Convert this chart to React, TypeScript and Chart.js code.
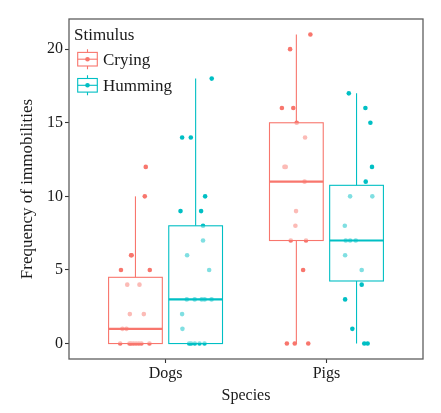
import React, { useEffect, useRef } from "react";
import { Chart, registerables } from "chart.js";

Chart.register(...registerables);

// ---------- data ----------
const species = ["Dogs", "Pigs"];
const stimuli = ["Crying", "Humming"];
const yTicks = [0, 5, 10, 15, 20];

const dogsCryingValues = [0, 0, 0, 0, 0, 0, 0, 0, 1, 1, 2, 2, 4, 4, 5, 5, 6, 6, 10, 12];
const dogsCryingJitter = [-0.095, -0.037, -0.027, -0.012, 0.004, 0.021, 0.037, 0.087, -0.081, -0.056, -0.035, 0.052, -0.051, 0.025, -0.09, 0.089, -0.027, -0.024, 0.058, 0.064];

const dogsHummingValues = [0, 0, 0, 0, 0, 1, 2, 3, 3, 3, 3, 3, 5, 6, 7, 8, 9, 9, 10, 14, 14, 18];
const dogsHummingJitter = [-0.04, -0.028, -0.005, 0.024, 0.055, -0.082, -0.084, -0.055, -0.006, 0.038, 0.056, 0.099, 0.084, -0.053, 0.046, 0.046, -0.094, 0.034, 0.059, -0.084, -0.03, 0.1];

const pigsCryingValues = [0, 0, 0, 5, 7, 7, 8, 9, 11, 12, 12, 14, 15, 16, 16, 20, 21];
const pigsCryingJitter = [-0.059, -0.01, 0.074, 0.042, -0.035, 0.06, -0.006, -0.002, 0.051, -0.074, -0.066, 0.054, 0.002, -0.09, -0.019, -0.039, 0.087];

const pigsHummingValues = [0, 0, 1, 3, 4, 5, 6, 7, 7, 7, 8, 10, 10, 11, 12, 15, 16, 17];
const pigsHummingJitter = [0.048, 0.069, -0.026, -0.071, 0.032, 0.032, -0.071, -0.067, -0.04, -0.005, -0.073, -0.04, 0.098, 0.057, 0.096, 0.086, 0.055, -0.048];

// box statistics per species (Dogs, Pigs)
const cryingLower = [0, 0];
const cryingQ1 = [0, 7];
const cryingMedian = [1, 11];
const cryingQ3 = [4.5, 15];
const cryingUpper = [10, 21];

const hummingLower = [0, 0];
const hummingQ1 = [0, 4.25];
const hummingMedian = [3, 7];
const hummingQ3 = [8, 10.75];
const hummingUpper = [18, 17];

// ---------- styling ----------
const COLORS = ["#F8766D", "#00BFC4"];
const DODGE = 0.187;
const BOX_HALF = 0.167;
const FONT = "'Liberation Serif', 'Times New Roman', serif";
const TEXT = "#1a1a1a";

function pts(vals: number[], jit: number[], center: number) {
  return vals.map((v, i) => ({ x: center + jit[i], y: v }));
}

const boxStats = [
  { lower: cryingLower, q1: cryingQ1, med: cryingMedian, q3: cryingQ3, upper: cryingUpper },
  { lower: hummingLower, q1: hummingQ1, med: hummingMedian, q3: hummingQ3, upper: hummingUpper },
];

const boxPlugin = {
  id: "boxes",
  afterDatasetsDraw(chart: any) {
    const { ctx, scales } = chart;
    const x = scales.x;
    const y = scales.y;
    ctx.save();
    boxStats.forEach((s, gi) => {
      const color = COLORS[gi];
      const off = gi === 0 ? -DODGE : DODGE;
      species.forEach((_, si) => {
        const c = si + 1 + off;
        const xc = x.getPixelForValue(c);
        const xl = x.getPixelForValue(c - BOX_HALF);
        const xr = x.getPixelForValue(c + BOX_HALF);
        const yLo = y.getPixelForValue(s.lower[si]);
        const yQ1 = y.getPixelForValue(s.q1[si]);
        const yMed = y.getPixelForValue(s.med[si]);
        const yQ3 = y.getPixelForValue(s.q3[si]);
        const yHi = y.getPixelForValue(s.upper[si]);
        ctx.strokeStyle = color;
        ctx.lineWidth = 1.1;
        ctx.beginPath();
        ctx.moveTo(xc, yHi);
        ctx.lineTo(xc, yQ3);
        ctx.moveTo(xc, yQ1);
        ctx.lineTo(xc, yLo);
        ctx.stroke();
        ctx.fillStyle = "rgba(255,255,255,0.5)";
        ctx.fillRect(xl, yQ3, xr - xl, yQ1 - yQ3);
        ctx.strokeRect(xl, yQ3, xr - xl, yQ1 - yQ3);
        ctx.lineWidth = 2.1;
        ctx.beginPath();
        ctx.moveTo(xl, yMed);
        ctx.lineTo(xr, yMed);
        ctx.stroke();
      });
    });
    ctx.restore();
  },
  afterDraw(chart: any) {
    const { ctx, chartArea } = chart;
    const { left, top, right, bottom } = chartArea;
    ctx.save();
    // panel border
    ctx.strokeStyle = "#5e5e5e";
    ctx.lineWidth = 1.3;
    ctx.strokeRect(left, top, right - left, bottom - top);
    // legend
    ctx.fillStyle = TEXT;
    ctx.font = `17px ${FONT}`;
    ctx.textAlign = "left";
    ctx.textBaseline = "alphabetic";
    ctx.fillText("Stimulus", left + 5, top + 21);
    stimuli.forEach((label, i) => {
      const cy = top + 40.2 + i * 26.1;
      const kx0 = left + 8.7;
      const kx1 = left + 28.3;
      const kc = (kx0 + kx1) / 2;
      ctx.strokeStyle = COLORS[i];
      ctx.lineWidth = 1.1;
      ctx.beginPath();
      ctx.moveTo(kc, cy - 10);
      ctx.lineTo(kc, cy - 6.8);
      ctx.moveTo(kc, cy + 6.8);
      ctx.lineTo(kc, cy + 10);
      ctx.stroke();
      ctx.fillStyle = "#fff";
      ctx.fillRect(kx0, cy - 6.8, kx1 - kx0, 13.6);
      ctx.strokeRect(kx0, cy - 6.8, kx1 - kx0, 13.6);
      ctx.beginPath();
      ctx.moveTo(kx0, cy);
      ctx.lineTo(kx1, cy);
      ctx.stroke();
      ctx.fillStyle = COLORS[i];
      ctx.beginPath();
      ctx.arc(kc, cy, 2.3, 0, Math.PI * 2);
      ctx.fill();
      ctx.fillStyle = TEXT;
      ctx.fillText(label, left + 34, cy + 6);
    });
    ctx.restore();
  },
};

export default function App() {
  const ref = useRef<HTMLCanvasElement | null>(null);
  useEffect(() => {
    if (!ref.current) return;
    const cryingPoints = [
      ...pts(dogsCryingValues, dogsCryingJitter, 1 - DODGE),
      ...pts(pigsCryingValues, pigsCryingJitter, 2 - DODGE),
    ];
    const hummingPoints = [
      ...pts(dogsHummingValues, dogsHummingJitter, 1 + DODGE),
      ...pts(pigsHummingValues, pigsHummingJitter, 2 + DODGE),
    ];
    const font = { family: FONT, size: 16 };
    const titleFontY = { family: FONT, size: 17 };
    const chart = new Chart(ref.current, {
      type: "scatter",
      data: {
        datasets: [
          { label: stimuli[0], data: cryingPoints, backgroundColor: COLORS[0], pointRadius: 2.3, pointBorderWidth: 0, borderWidth: 0 },
          { label: stimuli[1], data: hummingPoints, backgroundColor: COLORS[1], pointRadius: 2.3, pointBorderWidth: 0, borderWidth: 0 },
        ],
      },
      options: {
        animation: false,
        responsive: false,
        maintainAspectRatio: false,
        events: [],
        layout: { padding: { top: 19, right: 18, left: 0, bottom: 0 } },
        plugins: { legend: { display: false }, tooltip: { enabled: false } },
        scales: {
          x: {
            type: "linear",
            min: 0.4,
            max: 2.6,
            afterBuildTicks: (s: any) => {
              s.ticks = species.map((_, i) => ({ value: i + 1 }));
            },
            afterFit: (s: any) => {
              s.height = 54;
            },
            ticks: {
              autoSkip: false,
              maxRotation: 0,
              padding: 1,
              color: TEXT,
              font,
              callback: (v: any) => species[Math.round(Number(v)) - 1] ?? "",
            },
            grid: { drawOnChartArea: false, drawTicks: true, tickLength: 4, tickColor: "#333", tickWidth: 1.1 },
            border: { display: false },
            title: { display: true, text: "Species", color: TEXT, font, padding: { top: 0, bottom: 7.8 } },
          },
          y: {
            type: "linear",
            min: -1.05,
            max: 22.05,
            afterBuildTicks: (s: any) => {
              s.ticks = yTicks.map((v) => ({ value: v }));
            },
            afterFit: (s: any) => {
              s.width = 69;
            },
            ticks: { padding: 2, color: TEXT, font },
            grid: { drawOnChartArea: false, drawTicks: true, tickLength: 4, tickColor: "#333", tickWidth: 1.1 },
            border: { display: false },
            title: { display: true, text: "Frequency of immobilities", color: TEXT, font: titleFontY, padding: { top: 17.7, bottom: 0 } },
          },
        },
      },
      plugins: [boxPlugin],
    });
    return () => chart.destroy();
  }, []);
  return (
    <div style={{ position: "fixed", left: 0, top: 0, width: 441, height: 413, background: "#fff" }}>
      <canvas ref={ref} width={441} height={413} style={{ display: "block", width: 441, height: 413 }} />
    </div>
  );
}
